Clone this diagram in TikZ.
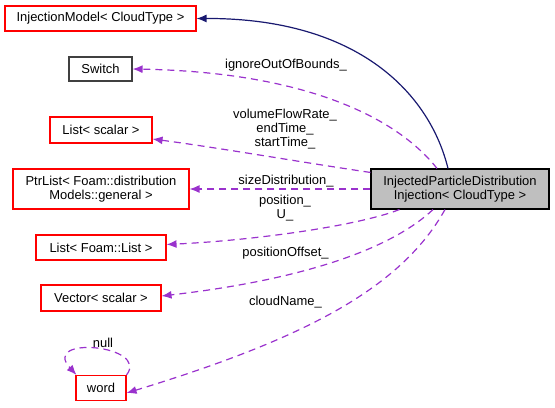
\documentclass[tikz,border=0pt]{standalone}
\usepackage{fontspec}
\setmainfont{Liberation Sans}
\usetikzlibrary{arrows.meta}
\definecolor{orchid}{HTML}{9A32CD}
\definecolor{navy}{HTML}{191970}
\definecolor{grey75}{HTML}{BFBFBF}

\begin{document}
\begin{tikzpicture}[x=1bp,y=-1bp,>={Latex[length=10bp,width=8bp]},
  font=\fontsize{13}{14}\selectfont,
  klass/.style={draw=red,line width=1.1bp,inner sep=0pt,align=center},
  member/.style={->,orchid,line width=1.2bp,dash pattern=on 7bp off 5bp},
  lbl/.style={align=center,inner sep=0pt}]
\useasboundingbox (0,0) rectangle (555,407);

% Classes (left column)
\node[klass,minimum width=191bp,minimum height=25bp] (injModel) at (100.5,18.5)
  {InjectionModel< CloudType >};
\node[draw=black!75,line width=1.1bp,inner sep=0pt,minimum width=63bp,minimum height=24bp]
  (switchCls) at (100.5,69) {Switch};
\node[klass,minimum width=102bp,minimum height=26bp] (listScalar) at (101,130)
  {List< scalar >};
\node[klass,minimum width=176bp,minimum height=40bp] (ptrList) at (101,189)
  {PtrList< Foam::distribution\\Models::general >};
\node[klass,minimum width=130bp,minimum height=25bp] (listList) at (101,247.5)
  {List< Foam::List >};
\node[klass,minimum width=120bp,minimum height=26bp] (vecScalar) at (101,298)
  {Vector< scalar >};
\node[klass,minimum width=50bp,minimum height=25bp] (wordCls) at (101,388)
  {word};

% Documented class
\node[draw=black,fill=grey75,line width=1.1bp,inner sep=0pt,align=center,
  minimum width=178bp,minimum height=40bp] (injected) at (460,189)
  {InjectedParticleDistribution\\Injection< CloudType >};

% Base class
\draw[->,navy,line width=1.2bp] ([xshift=-12bp]injected.north)
  .. controls (430,95) and (360,18) .. (injModel.east);

% Members
\draw[member] ([xshift=-23bp]injected.north)
  .. controls (395,115) and (300,72) .. (switchCls.east);
\draw[member] ([yshift=-4bp]injected.north west)
  .. controls (300,162) and (220,148) .. ([yshift=-9bp]listScalar.east);
\draw[member] (injected.west) -- (ptrList.east);
\draw[member] ([xshift=29bp]injected.south west)
  .. controls (360,225) and (260,240) .. ([yshift=3bp]listList.east);
\draw[member] ([xshift=-27bp]injected.south)
  .. controls (390,250) and (300,280) .. ([yshift=2bp]vecScalar.east);
\draw[member] ([xshift=-15bp]injected.south)
  .. controls (400,290) and (300,340) .. ([yshift=-5bp]wordCls.east);
\draw[member] (wordCls.north east)
  .. controls (150,345) and (40,335) .. ([xshift=1bp]wordCls.north west);

% Member names
\node[lbl] (lIgnore) at (286,65) {ignoreOutOfBounds\_};
\node[lbl] (lFlow) at (285,129) {volumeFlowRate\_\\endTime\_\\startTime\_};
\node[lbl] (lSize) at (286,181) {sizeDistribution\_};
\node[lbl] (lPos) at (285,208.5) {position\_\\U\_};
\node[lbl] (lOffset) at (285.5,253) {positionOffset\_};
\node[lbl] (lCloud) at (285.5,302) {cloudName\_};
\node[lbl] (lNull) at (103,343) {null};

\end{tikzpicture}
\end{document}
